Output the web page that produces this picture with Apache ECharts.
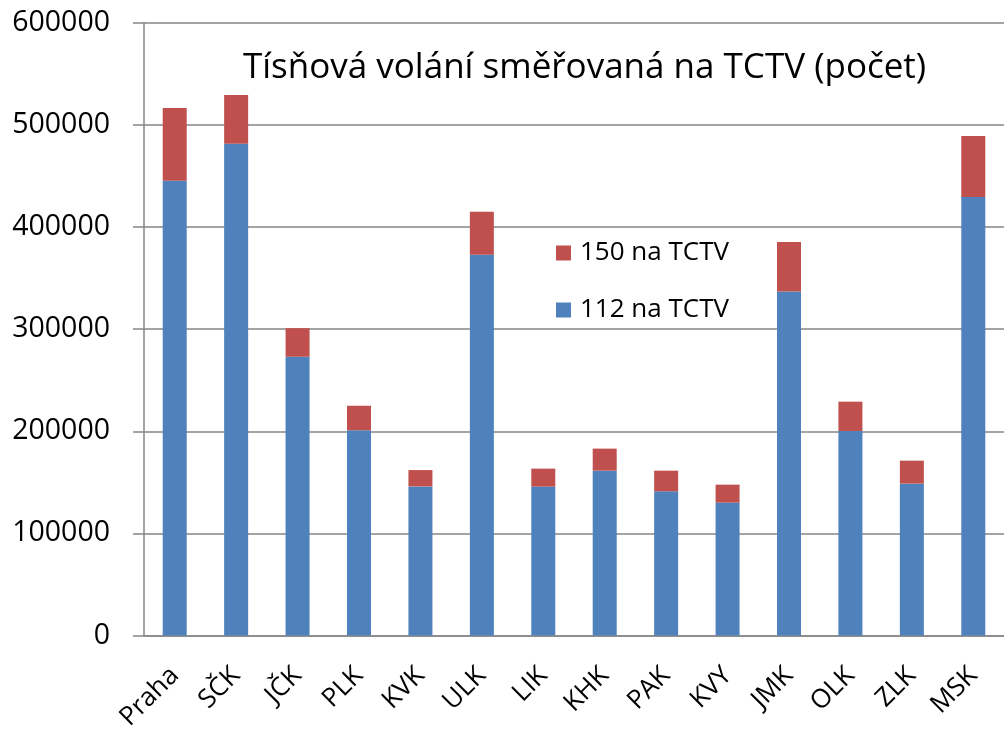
<!DOCTYPE html>
<html>
<head>
<meta charset="utf-8">
<script src="https://cdn.jsdelivr.net/npm/echarts@6/dist/echarts.min.js"></script>
<style>html,body{margin:0;padding:0;background:#fff;}#c{width:1004px;height:733px;}</style>
</head>
<body>
<div id="c"></div>
<script>
var categories = ['Praha', 'SČK', 'JČK', 'PLK', 'KVK', 'ULK', 'LIK', 'KHK', 'PAK', 'KVY', 'JMK', 'OLK', 'ZLK', 'MSK'];
var calls112 = [445500, 481700, 273000, 201000, 146000, 373000, 145800, 161400, 141200, 130100, 337000, 200300, 148700, 429500];
var calls150 = [71100, 47700, 28000, 24000, 16000, 42000, 17600, 21600, 20200, 17600, 48500, 28700, 22500, 59700];
var yTicks = [0, 100000, 200000, 300000, 400000, 500000, 600000];

var chart = echarts.init(document.getElementById('c'), null, {renderer: 'canvas'});
var font = '"Open Sans", Lato, sans-serif';
chart.setOption({
  animation: false,
  backgroundColor: '#ffffff',
  title: {
    text: 'Tísňová volání směřovaná na TCTV (počet)',
    left: 238, top: 46,
    textStyle: {fontFamily: font, fontSize: 35, fontWeight: 'normal', color: '#000'}
  },
  legend: {
    orient: 'vertical', left: 551, top: 235,
    itemWidth: 15, itemHeight: 15, itemGap: 31,
    icon: 'rect',
    data: ['150 na TCTV', '112 na TCTV'],
    textStyle: {fontFamily: font, fontSize: 26, color: '#000', padding: [0,0,0,4]}
  },
  grid: {left: 144, top: 23, width: 866, height: 613, containLabel: false},
  xAxis: {
    type: 'category', data: categories,
    axisLine: {lineStyle: {color: '#868686', width: 1.5}},
    axisTick: {length: 12, lineStyle: {color: '#868686', width: 1.5}},
    axisLabel: {rotate: 45, margin: 36, fontFamily: font, fontSize: 26, color: '#000', interval: 0}
  },
  yAxis: {
    type: 'value', min: yTicks[0], max: yTicks[yTicks.length - 1], interval: 100000,
    axisLine: {show: true, lineStyle: {color: '#868686', width: 1.5}},
    axisTick: {show: true, inside: false, length: 11, lineStyle: {color: '#868686', width: 1.5}},
    splitLine: {lineStyle: {color: '#868686', width: 1.5}},
    axisLabel: {margin: 34, fontFamily: font, fontSize: 28.5, color: '#000',
      formatter: function (v) { return String(v); }}
  },
  series: [
    {name: '112 na TCTV', type: 'bar', stack: 's', data: calls112, barWidth: 24,
     itemStyle: {color: '#4F81BD'}},
    {name: '150 na TCTV', type: 'bar', stack: 's', data: calls150, barWidth: 24,
     itemStyle: {color: '#C0504D'}}
  ]
});
</script>
</body>
</html>
